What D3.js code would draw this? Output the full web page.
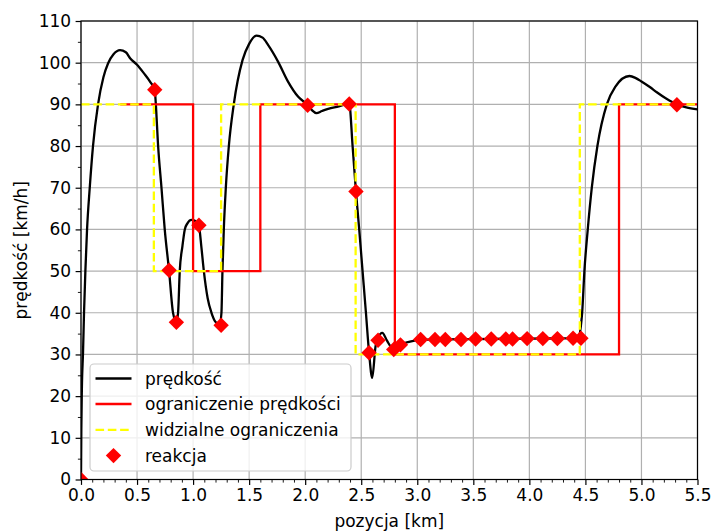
<!DOCTYPE html>
<html><head><meta charset="utf-8">
<script src="https://cdn.jsdelivr.net/npm/d3@7"></script>
<style>body{margin:0;background:#fff}svg{display:block}text{font-family:"DejaVu Sans",sans-serif}</style>
</head><body>
<svg id="c" width="711" height="532"></svg>
<script>
// speed curve
const speedX = [0,0.003,0.008,0.018,0.027,0.039,0.054,0.078,0.107,0.152,0.2,0.241,0.29,0.348,0.4,0.44,0.5,0.56,0.62,0.658,0.667,0.688,0.718,0.747,0.786,0.821,0.851,0.866,0.881,0.905,0.926,0.948,0.985,1.02,1.051,1.075,1.096,1.13,1.164,1.2,1.238,1.253,1.262,1.274,1.292,1.319,1.363,1.441,1.5,1.566,1.62,1.67,1.759,1.848,1.938,2.021,2.06,2.1,2.15,2.205,2.3,2.393,2.423,2.453,2.482,2.512,2.542,2.57,2.598,2.628,2.65,2.688,2.73,2.771,2.8,2.852,2.935,3.024,3.5,4.0,4.438,4.459,4.471,4.491,4.521,4.557,4.607,4.691,4.766,4.893,4.95,5.0,5.078,5.137,5.22,5.316,5.4,5.5];
const speedV = [0,12,22,30.4,40,50,60,70,80,90,96.5,99.8,102,103,102.5,101,99.5,97.5,95.3,93.5,90.3,80,70,60,50,40,37.8,40,50,56,60,61.4,62.3,62,61,55.5,50,43.5,40,37.8,37.1,40,50,60,70,80,90,100.6,104.5,106.5,106,104.2,100.2,95.4,91.8,89.9,88.6,87.9,88.4,88.9,89.5,90.2,80,69.1,60,50,40,30.4,24.4,32,34,35.2,33.3,31.6,31.2,32.4,33.1,33.5,33.7,33.8,33.9,36.7,40,50,60,70,80,90,94.2,96.8,96.3,95.5,94.1,92.9,91.4,90,89.3,88.8];
// speed limit (step after)
const limitX = [0.35,1.0,1.6,2.8,4.8,5.5];
const limitV = [90,50,90,30,90,90];
// visible limits (step after)
const visX = [0,0.65,1.25,2.45,4.45,5.5];
const visV = [90,50,90,30,90,90];
// reactions
const reactX = [0,0.658,0.786,0.851,1.052,1.25,2.022,2.393,2.453,2.57,2.65,2.79,2.85,3.03,3.158,3.25,3.39,3.52,3.66,3.79,3.85,3.98,4.12,4.25,4.39,4.46,5.316];
const reactV = [0,93.5,50.2,37.7,61,37,89.8,90.1,69.1,30.4,33.4,31.2,32.3,33.6,33.6,33.6,33.6,33.7,33.7,33.7,33.7,33.8,33.8,33.8,33.9,33.9,89.9];
const xTicks = [0,0.5,1,1.5,2,2.5,3,3.5,4,4.5,5,5.5];
const yTicks = [0,10,20,30,40,50,60,70,80,90,100,110];
const legendLabels = ["prędkość","ograniczenie prędkości","widzialne ograniczenia","reakcja"];

const FS = "17px", LW = 2.3, DASH = "8.6,3.7";
const L=81, R=697.5, T=21, B=479.5;
const svg = d3.select("#c");
const x = d3.scaleLinear().domain([0,5.5]).range([L,R]);
const y = d3.scaleLinear().domain([0,110]).range([B,T]);

svg.append("defs").append("clipPath").attr("id","clip").append("rect")
  .attr("x",L).attr("y",T).attr("width",R-L).attr("height",B-T);

// grid
const g = svg.append("g");
g.selectAll(".gx").data(xTicks).enter().append("line")
  .attr("x1",d=>x(d)).attr("x2",d=>x(d)).attr("y1",T).attr("y2",B)
  .attr("stroke","#b0b0b0").attr("stroke-width",1.2);
g.selectAll(".gy").data(yTicks).enter().append("line")
  .attr("y1",d=>y(d)).attr("y2",d=>y(d)).attr("x1",L).attr("x2",R)
  .attr("stroke","#b0b0b0").attr("stroke-width",1.2);

const plot = svg.append("g").attr("clip-path","url(#clip)");
const line = d3.line().x(d=>x(d[0])).y(d=>y(d[1]));

plot.append("path").datum(d3.zip(speedX,speedV))
  .attr("d",line.curve(d3.curveMonotoneX)).attr("fill","none")
  .attr("stroke","#000").attr("stroke-width",LW).attr("stroke-linejoin","round");

const stepLine = d3.line().x(d=>x(d[0])).y(d=>y(d[1])).curve(d3.curveStepAfter);
plot.append("path").datum(d3.zip(limitX,limitV)).attr("d",stepLine)
  .attr("fill","none").attr("stroke","#ff0000").attr("stroke-width",LW);
plot.append("path").datum(d3.zip(visX,visV)).attr("d",stepLine)
  .attr("fill","none").attr("stroke","#ffff00").attr("stroke-width",LW)
  .attr("stroke-dasharray",DASH);

const dia = (s)=>`M0,${-s}L${s},0L0,${s}L${-s},0Z`;
plot.selectAll(".r").data(d3.zip(reactX,reactV)).enter().append("path")
  .attr("d",dia(7.7)).attr("transform",d=>`translate(${x(d[0])},${y(d[1])})`)
  .attr("fill","#ff0000");

// axes
const xAxis = svg.append("g").attr("transform",`translate(0,${B})`)
  .call(d3.axisBottom(x).tickValues(xTicks).tickFormat(d3.format(".1f")).tickSize(5.4).tickPadding(4.5));
const yAxis = svg.append("g").attr("transform",`translate(${L},0)`)
  .call(d3.axisLeft(y).tickValues(yTicks).tickFormat(d3.format("d")).tickSize(5.4).tickPadding(4.5));
[xAxis,yAxis].forEach(a=>{
  a.select(".domain").remove();
  a.selectAll("line").attr("stroke","#000").attr("stroke-width",1.2);
  a.selectAll("text").attr("font-size",FS).attr("fill","#000").attr("font-family","DejaVu Sans");
});
// minor ticks
svg.append("g").attr("transform",`translate(0,${B})`)
  .call(d3.axisBottom(x).tickValues(d3.range(0,56).map(i=>i/10).filter(v=>Math.round(v*10)%5!==0)).tickSize(3.1).tickFormat(""))
  .call(a=>{a.select(".domain").remove();a.selectAll("line").attr("stroke-width",0.9);});
svg.append("g").attr("transform",`translate(${L},0)`)
  .call(d3.axisLeft(y).tickValues(d3.range(5,110,10)).tickSize(3.1).tickFormat(""))
  .call(a=>{a.select(".domain").remove();a.selectAll("line").attr("stroke-width",0.9);});

// spines
svg.append("rect").attr("x",L).attr("y",T).attr("width",R-L).attr("height",B-T)
  .attr("fill","none").attr("stroke","#000").attr("stroke-width",1.2);

svg.append("text").attr("x",(L+R)/2).attr("y",527).attr("text-anchor","middle")
  .attr("font-size",FS).text("pozycja [km]");
svg.append("text").attr("transform",`translate(27,${(T+B)/2}) rotate(-90)`).attr("text-anchor","middle")
  .attr("font-size",FS).text("prędkość [km/h]");

// legend
const lg = svg.append("g");
lg.append("rect").attr("x",90).attr("y",364).attr("width",261).attr("height",107).attr("rx",4)
  .attr("fill","#fff").attr("fill-opacity",0.8).attr("stroke","#cccccc").attr("stroke-width",1.2);
const rows = [378.5,404,429.8,455.6];
const lx1 = 95.5, lx2 = 131.5;
lg.append("line").attr("x1",lx1).attr("x2",lx2).attr("y1",rows[0]).attr("y2",rows[0]).attr("stroke","#000").attr("stroke-width",LW);
lg.append("line").attr("x1",lx1).attr("x2",lx2).attr("y1",rows[1]).attr("y2",rows[1]).attr("stroke","#ff0000").attr("stroke-width",LW);
lg.append("line").attr("x1",lx1).attr("x2",lx2).attr("y1",rows[2]).attr("y2",rows[2]).attr("stroke","#ffff00").attr("stroke-width",LW).attr("stroke-dasharray",DASH);
lg.append("path").attr("d",dia(7.7)).attr("transform",`translate(${(lx1+lx2)/2},${rows[3]})`).attr("fill","#ff0000");
lg.selectAll(".lt").data(legendLabels).enter().append("text")
  .attr("x",145).attr("y",(d,i)=>rows[i]+6).attr("font-size",FS).text(d=>d);
</script>
</body></html>
